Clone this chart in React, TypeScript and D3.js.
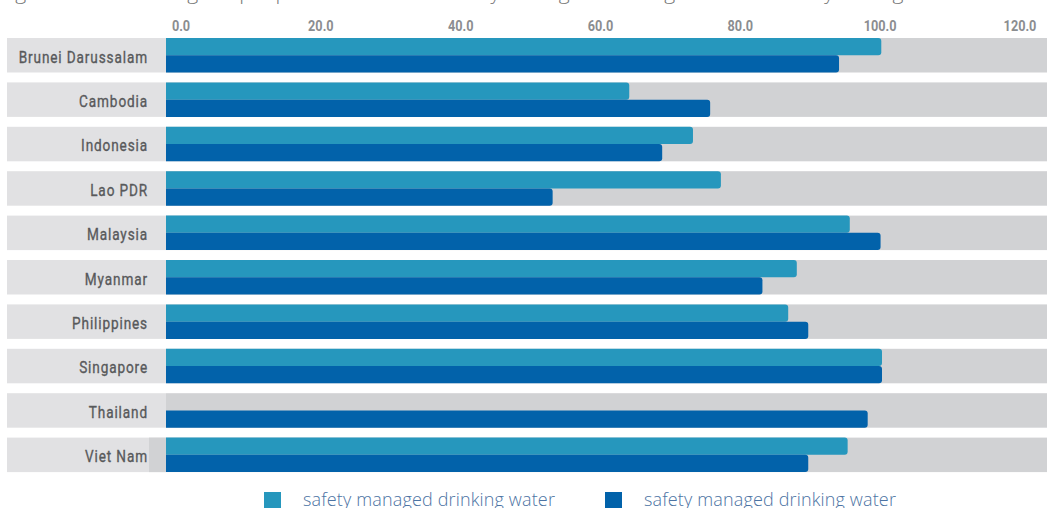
import React from "react";
import * as d3 from "d3";

const categories = [
  "Brunei Darussalam",
  "Cambodia",
  "Indonesia",
  "Lao PDR",
  "Malaysia",
  "Myanmar",
  "Philippines",
  "Singapore",
  "Thailand",
  "Viet Nam",
];
const seriesA: (number | null)[] = [99.9, 64.7, 73.6, 77.5, 95.5, 88.1, 86.9, 100, null, 95.2];
const seriesB: (number | null)[] = [94.0, 76.0, 69.3, 54.0, 99.8, 83.3, 89.7, 100, 98.0, 89.7];
const seriesNames = ["safety managed drinking water", "safety managed drinking water"];
const tickValues = [0, 20, 40, 60, 80, 100, 120];
const titleText =
  "Figure 4.1: Percentage of people with access to safely managed drinking water and safely managed sanitation";

const W = 1047;
const H = 508;
const colA = "#2697bd";
const colB = "#0262aa";
const plotBg = "#d1d2d4";
const labelBg = "#e1e1e3";
const condensed = "Roboto, 'DejaVu Sans', sans-serif";

function barPath(x0: number, x1: number, y0: number, h: number, r: number) {
  const rr = Math.min(r, (x1 - x0) / 2, h / 2);
  return `M${x0},${y0}H${x1 - rr}Q${x1},${y0} ${x1},${y0 + rr}V${y0 + h - rr}Q${x1},${y0 + h} ${x1 - rr},${y0 + h}H${x0}Z`;
}

export default function App() {
  const x = d3.scaleLinear().domain([0, 100]).range([166, 882]);
  const tickPos = d3.scaleLinear().domain([0, 120]).range([181, 1020]);
  const y = d3
    .scaleBand<string>()
    .domain(categories)
    .range([38, 472.1])
    .paddingInner(0.223)
    .paddingOuter(0);
  const bw = y.bandwidth();
  const half = bw / 2;

  return (
    <svg
      width={W}
      height={H}
      style={{ position: "fixed", left: 0, top: 0, background: "#fff" }}
    >
      <text
        x={0}
        y={-1.5}
        fontFamily="'Open Sans', sans-serif"
        fontWeight={300}
        fontSize={21}
        fill="#777"
      >
        {titleText}
      </text>
      {tickValues.map((t) => (
        <text
          key={t}
          transform={`translate(${tickPos(t)},30.5) scale(0.82,1)`}
          textAnchor="middle"
          fontFamily={condensed}
          fontWeight={700}
          fontSize={15.5}
          fill="#8b8d90"
        >
          {t.toFixed(1)}
        </text>
      ))}
      {categories.map((c, i) => {
        const y0 = y(c) as number;
        const a = seriesA[i];
        const b = seriesB[i];
        const last = i === categories.length - 1;
        return (
          <g key={c}>
            <rect x={7} y={y0} width={159} height={bw} fill={labelBg} />
            {last && <rect x={149} y={y0} width={17} height={bw} fill={plotBg} />}
            <rect x={166} y={y0} width={W - 166} height={bw} fill={plotBg} />
            {a != null && (
              <path d={barPath(x(0), x(a), y0, half, 3)} fill={colA} />
            )}
            {b != null && (
              <path d={barPath(x(0), x(b), y0 + half, half, 3)} fill={colB} />
            )}
            <text
              transform={`translate(148,${y0 + bw / 2 + 7.3}) scale(0.8,1)`}
              textAnchor="end"
              fontFamily={condensed}
              fontWeight={400}
              fontSize={17}
              letterSpacing={1.1}
              fill="#58595b"
              stroke="#58595b"
              strokeWidth={0.35}
            >
              {c}
            </text>
          </g>
        );
      })}
      {seriesNames.map((n, i) => {
        const lx = 264 + i * 341;
        return (
          <g key={i}>
            <rect x={lx} y={492} width={17} height={17} fill={i === 0 ? colA : colB} />
            <text
              x={lx + 39}
              y={506}
              fontFamily="'Open Sans', sans-serif"
              fontWeight={300}
              fontSize={18}
              letterSpacing={0.15}
              fill="#4c73a3"
            >
              {n}
            </text>
          </g>
        );
      })}
    </svg>
  );
}
